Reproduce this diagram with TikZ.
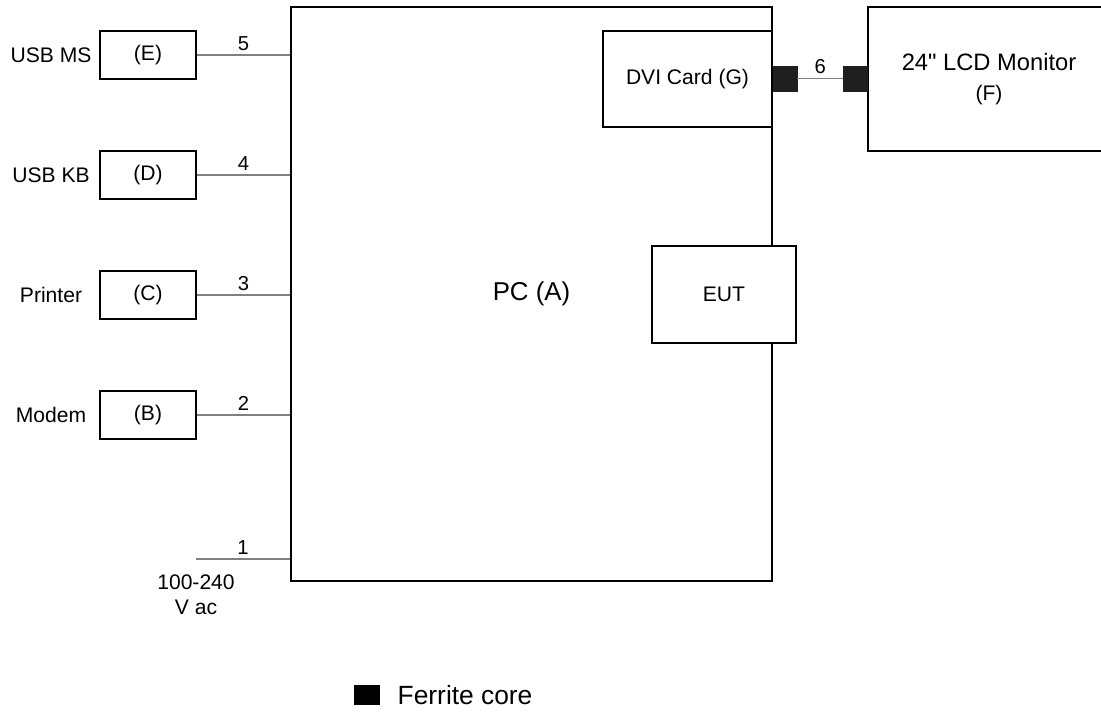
\documentclass[tikz,border=0pt]{standalone}
\usepackage{fontspec}
\setmainfont{Liberation Sans}[Ligatures=TeXOff]
\usetikzlibrary{positioning}
\begin{document}
\begin{tikzpicture}[x=0.02cm, y=-0.02cm,
    box/.style={draw, line width=1.1pt, fill=white, inner sep=0pt, font=\fontsize{12}{14}\selectfont},
    dev/.style={box, minimum width=1.92cm, minimum height=0.96cm},
    cable/.style={gray, line width=1pt},
    num/.style={above, inner sep=2pt, text=black, font=\fontsize{11.5}{14}\selectfont},
    lbl/.style={font=\fontsize{12}{14}\selectfont},
    ferrite/.style={fill=black!88, draw=black!88, inner sep=0pt, minimum width=0.48cm, minimum height=0.5cm}]
  \useasboundingbox (0,0) rectangle (1101,715);
  \clip (0,0) rectangle (1101,715);
  % PC and the cards in it
  \node[box, minimum width=9.62cm, minimum height=11.48cm, font=\fontsize{14.7}{17}\selectfont] (pc) at (531.5,294) {PC (A)};
  \node[box, minimum width=3.38cm, minimum height=1.92cm] (dvi) at (687.5,79) {DVI Card (G)};
  \node[box, minimum width=2.88cm, minimum height=1.94cm] (eut) at (724,294.5) {EUT};
  \node[box, minimum width=4.84cm, minimum height=2.88cm, align=center, font=\fontsize{13.5}{17}\selectfont] (mon) at (989,79) {24" LCD Monitor\\[0pt]{\fontsize{12}{14}\selectfont (F)}};
  % peripherals
  \foreach \n/\lab/\dev/\y in {5/USB MS/E/55, 4/USB KB/D/175, 3/Printer/C/295, 2/Modem/B/415} {
    \node[dev] (d\dev) at (148,\y) {(\dev)};
    \node[lbl] (t\dev) at (51,\y) {\lab};
    \draw[cable] (d\dev.east) -- (d\dev.east -| pc.west) node[num, midway] {\n};
  }
  % mains
  \coordinate (ac) at (196,559);
  \draw[cable] (ac) -- (ac -| pc.west) node[num, midway] {1};
  \node[lbl, align=center] (acv) at (196,595) {100-240\\V ac};
  % DVI cable with ferrites
  \node[ferrite] (f1) at (785,78.5) {};
  \node[ferrite] (f2) at (855.5,78.5) {};
  \draw[cable] (f1) -- (f2) node[num, midway] {6};
  % legend
  \node[fill=black, inner sep=0pt, minimum width=0.52cm, minimum height=0.4cm] (key) at (367,695) {};
  \node[right=0.34cm of key, inner sep=0pt, font=\fontsize{15}{18}\selectfont] (keytxt) {Ferrite core};
\end{tikzpicture}
\end{document}
